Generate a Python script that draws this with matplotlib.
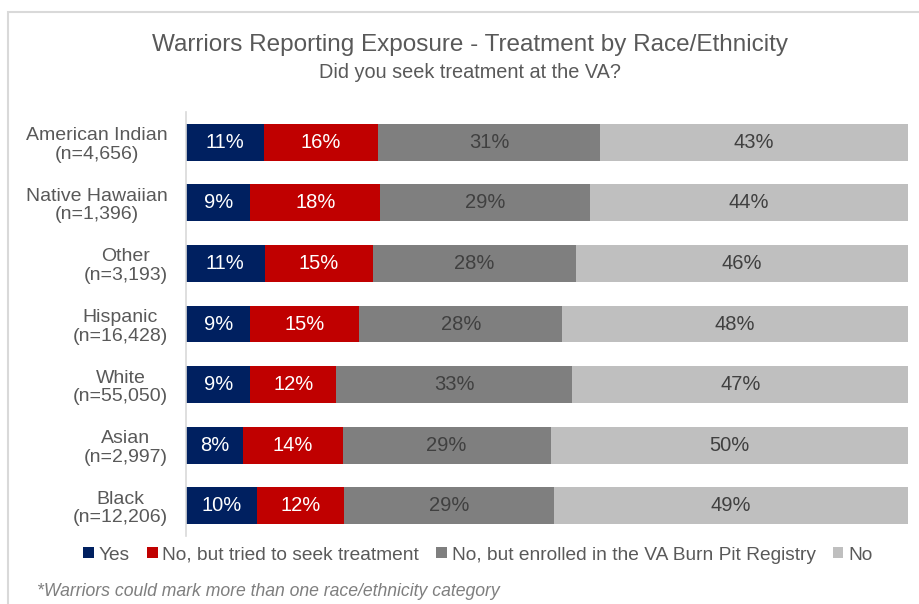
import matplotlib
matplotlib.use("Agg")
import matplotlib.pyplot as plt
from matplotlib.patches import Rectangle, Patch

plt.rcParams['font.family'] = ['Liberation Sans', 'DejaVu Sans']

categories = ["American Indian\n(n=4,656)", "Native Hawaiian\n(n=1,396)", "Other\n(n=3,193)",
              "Hispanic\n(n=16,428)", "White\n(n=55,050)", "Asian\n(n=2,997)", "Black\n(n=12,206)"]
series_names = ["Yes", "No, but tried to seek treatment",
                "No, but enrolled in the VA Burn Pit Registry", "No"]
yes = [10.8, 8.9, 10.9, 8.9, 8.9, 7.9, 9.9]
tried = [15.8, 18.0, 15.0, 15.1, 11.9, 13.8, 12.0]
registry = [30.8, 29.1, 28.1, 28.1, 32.7, 28.8, 29.1]
no = [42.6, 44.0, 46.0, 47.9, 46.6, 49.6, 49.0]

colors = ["#002060", "#C00000", "#7F7F7F", "#BFBFBF"]
text_colors = ["white", "white", "#404040", "#404040"]

fig = plt.figure(figsize=(9.2, 6.04), dpi=100)
W, H = 920, 604

# outer frame
fig.patches.append(Rectangle((8 / W, 1 - 640 / H), 940 / W, 628 / H, transform=fig.transFigure,
                             fill=False, edgecolor="#D9D9D9", linewidth=1.5, zorder=0))

ax = fig.add_axes([186 / W, 1 - 536 / H, (908 - 186) / W, (536 - 112) / H])

data = [yes, tried, registry, no]
ypos = list(range(len(categories)))
left = [0.0] * len(categories)
for vals, name, c, tc in zip(data, series_names, colors, text_colors):
    bars = ax.barh(ypos, vals, left=left, height=0.61, color=c, label=name)
    for b, v in zip(bars, vals):
        ax.text(b.get_x() + b.get_width() / 2, b.get_y() + b.get_height() / 2,
                f"{int(v + 0.5)}%", ha="center", va="center", color=tc, fontsize=14.5)
    left = [l + v for l, v in zip(left, vals)]

ax.set_xlim(0, 100)
ax.set_ylim(6.5, -0.5)
ax.set_yticks(ypos)
ax.set_yticklabels(categories, fontsize=14, color="#595959", multialignment="center",
                   linespacing=1.12)
ax.tick_params(axis="y", length=0, pad=13)
ax.set_xticks([])
for s in ["top", "right", "bottom"]:
    ax.spines[s].set_visible(False)
ax.spines["left"].set_color("#D9D9D9")
ax.spines["left"].set_linewidth(1.2)

fig.text(470 / W, 1 - 45 / H, "Warriors Reporting Exposure - Treatment by Race/Ethnicity",
         ha="center", va="center", fontsize=17.5, color="#595959")
fig.text(470 / W, 1 - 72 / H, "Did you seek treatment at the VA?",
         ha="center", va="center", fontsize=14.3, color="#595959")

handles = [Patch(facecolor=c, edgecolor="none") for c in colors]
fig.legend(handles, series_names, loc="center", bbox_to_anchor=(478 / W, 1 - 555 / H),
           ncol=4, frameon=False, fontsize=13.8, labelcolor="#595959",
           handlelength=0.55, handleheight=0.55, handletextpad=0.25, columnspacing=0.9)

fig.text(37 / W, 1 - 591 / H, "*Warriors could mark more than one race/ethnicity category",
         ha="left", va="center", fontsize=12.7, style="italic", color="#7F7F7F")

fig.savefig("out.png", dpi=100)
